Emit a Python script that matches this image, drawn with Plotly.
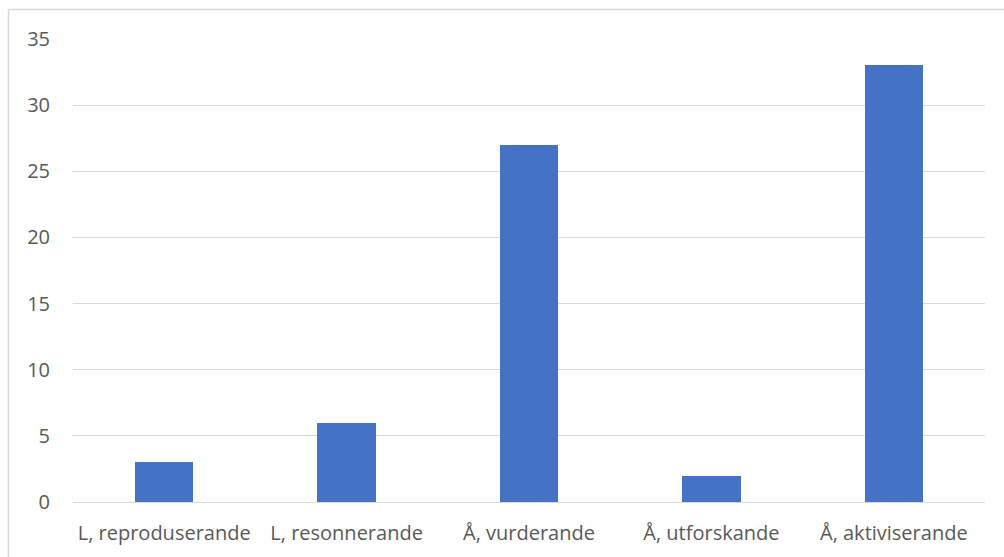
import plotly.graph_objects as go

categories = ["L, reproduserande", "L, resonnerande", "Å, vurderande", "Å, utforskande", "Å, aktiviserande"]
values = [3, 6, 27, 2, 33]
y_ticks = [0, 5, 10, 15, 20, 25, 30, 35]

W, H = 1004, 557
ML, MR, MT, MB = 73, 19, 39, 55
plot_w = W - ML - MR
plot_h = H - MT - MB

FONT = "Open Sans"
FSIZE = 20
TEXT_COLOR = "#595959"

fig = go.Figure(
    go.Bar(
        x=categories,
        y=values,
        marker=dict(color="#4472C4", line=dict(width=0)),
        width=0.32,
    )
)

fig.update_layout(
    width=W,
    height=H,
    margin=dict(l=ML, r=MR, t=MT, b=MB),
    paper_bgcolor="white",
    plot_bgcolor="white",
    showlegend=False,
    font=dict(family=FONT, size=FSIZE, color=TEXT_COLOR),
    bargap=0,
)

fig.update_xaxes(
    showgrid=False,
    showline=False,
    ticks="",
    tickfont=dict(family=FONT, size=FSIZE, color=TEXT_COLOR),
    ticklabelstandoff=17,
)
fig.update_yaxes(
    range=[0, 35],
    tickvals=y_ticks,
    showgrid=True,
    gridcolor="#d9d9d9",
    gridwidth=1,
    zeroline=True,
    zerolinecolor="#d9d9d9",
    zerolinewidth=1,
    showline=False,
    ticks="",
    tickfont=dict(family=FONT, size=FSIZE, color=TEXT_COLOR),
    ticklabelstandoff=22,
)

# Light frame around the chart area
fig.add_shape(
    type="rect",
    xref="paper", yref="paper",
    x0=(8.5 - ML) / plot_w, x1=(W + 5 - ML) / plot_w,
    y0=(H - MB - (H + 5)) / plot_h, y1=(H - MB - 9.5) / plot_h,
    line=dict(color="#d9d9d9", width=1.5),
    fillcolor="rgba(0,0,0,0)",
    layer="below",
)

fig.write_html("out.html")
